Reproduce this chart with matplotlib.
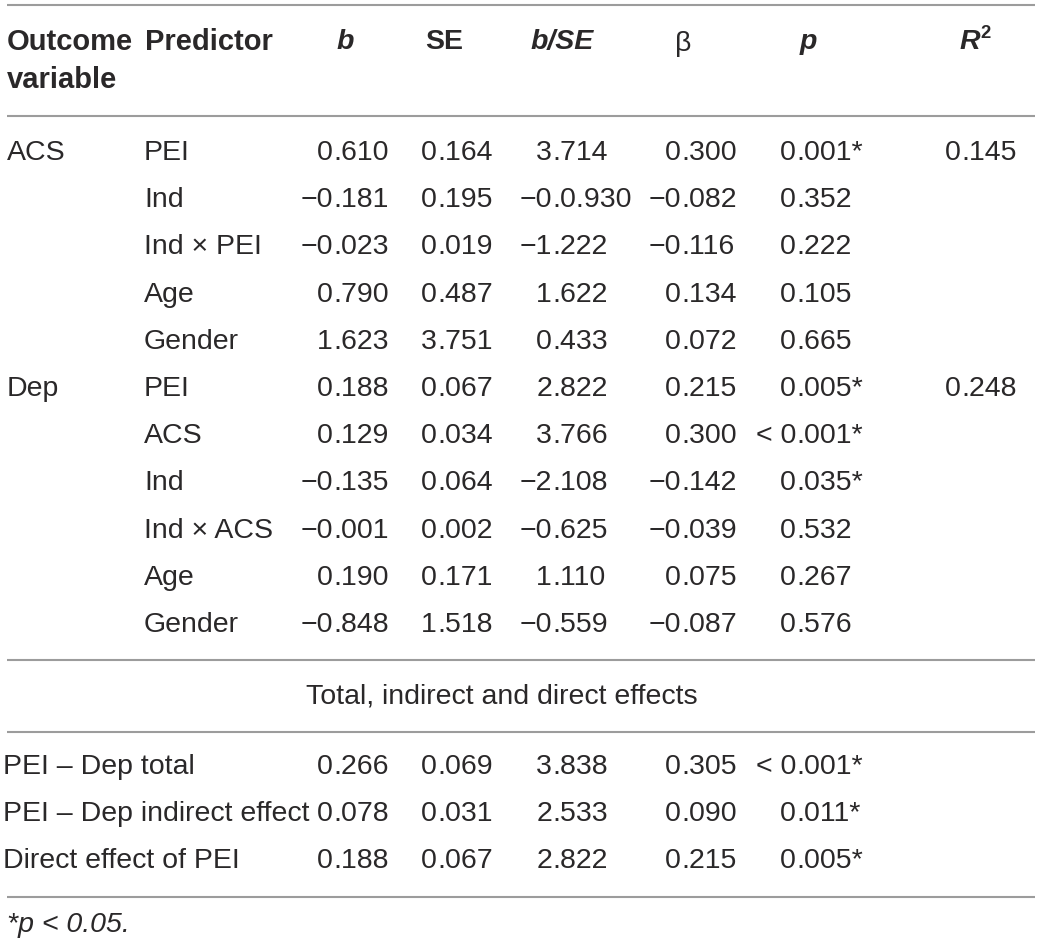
import matplotlib
matplotlib.use("Agg")
import matplotlib.pyplot as plt

# table content
outcome = ["ACS", "", "", "", "", "Dep", "", "", "", "", ""]
predictors = ["PEI", "Ind", "Ind × PEI", "Age", "Gender",
              "PEI", "ACS", "Ind", "Ind × ACS", "Age", "Gender"]
b_vals = ["0.610", "−0.181", "−0.023", "0.790", "1.623",
          "0.188", "0.129", "−0.135", "−0.001", "0.190", "−0.848"]
se_vals = ["0.164", "0.195", "0.019", "0.487", "3.751",
           "0.067", "0.034", "0.064", "0.002", "0.171", "1.518"]
bse_vals = ["3.714", "−0.0.930", "−1.222", "1.622", "0.433",
            "2.822", "3.766", "−2.108", "−0.625", "1.110", "−0.559"]
beta_vals = ["0.300", "−0.082", "−0.116", "0.134", "0.072",
             "0.215", "0.300", "−0.142", "−0.039", "0.075", "−0.087"]
p_vals = ["0.001*", "0.352", "0.222", "0.105", "0.665",
          "0.005*", "< 0.001*", "0.035*", "0.532", "0.267", "0.576"]
r2_vals = ["0.145", "", "", "", "", "0.248", "", "", "", "", ""]

section_title = "Total, indirect and direct effects"
effect_labels = ["PEI – Dep total", "PEI – Dep indirect effect", "Direct effect of PEI"]
eff_b = ["0.266", "0.078", "0.188"]
eff_se = ["0.069", "0.031", "0.067"]
eff_bse = ["3.838", "2.533", "2.822"]
eff_beta = ["0.305", "0.090", "0.215"]
eff_p = ["< 0.001*", "0.011*", "0.005*"]
footnote = "*p < 0.05."

W, H = 1041, 946
FONT = "Liberation Sans"
FS = 20.5
TXT = "#2a2829"
RULE = "#9c9c9c"

fig = plt.figure(figsize=(W / 100, H / 100), dpi=100)
ax = fig.add_axes([0, 0, 1, 1])
ax.set_xlim(0, W)
ax.set_ylim(H, 0)
ax.axis("off")


def put(x, y, s, ha="left", **kw):
    ax.text(x, y, s, ha=ha, va="center", fontsize=kw.pop("fs", FS),
            family=FONT, color=TXT, **kw)


def dec(x, y, s):
    # align numbers on the first decimal point
    if not s:
        return
    i = s.index(".")
    put(x, y, s[:i], ha="right")
    put(x, y, s[i:], ha="left")


# rules
for yy in [5, 116, 660, 732, 897]:
    ax.plot([7, 1035], [yy, yy], color=RULE, lw=1.5, solid_capstyle="butt")

# header
hy = 42
put(7, hy, "Outcome", weight="bold", fs=FS + 0.5)
put(145, hy, "Predictor", weight="bold", fs=FS + 0.5)
put(7, 80, "variable", weight="bold", fs=FS + 0.5)
put(345, hy, "b", ha="center", weight="bold", style="italic")
put(444, hy, "SE", ha="center", weight="bold")
put(562, hy, "b/SE", ha="center", weight="bold", style="italic")
put(683, hy + 2, "β", ha="center")
put(808, hy, "p", ha="center", weight="bold", style="italic")
put(980, hy, "R", ha="right", weight="bold", style="italic")
put(980, hy - 8, "2", ha="left", weight="bold", fs=FS * 0.65)

# column decimal positions
dec_x = [333, 437, 552, 681, 796, 961]

row_y0, row_dy = 153, 47.2
for i in range(len(predictors)):
    y = row_y0 + i * row_dy
    put(7, y, outcome[i])
    put(144, y, predictors[i])
    for x, col in zip(dec_x, [b_vals, se_vals, bse_vals, beta_vals, p_vals, r2_vals]):
        dec(x, y, col[i])

put(502, 696, section_title, ha="center")

eff_y0 = 767
for i in range(len(effect_labels)):
    y = eff_y0 + i * row_dy
    put(3, y, effect_labels[i])
    for x, col in zip(dec_x, [eff_b, eff_se, eff_bse, eff_beta, eff_p]):
        dec(x, y, col[i])

put(7, 925, footnote, style="italic")

fig.savefig("out.png", dpi=100)
